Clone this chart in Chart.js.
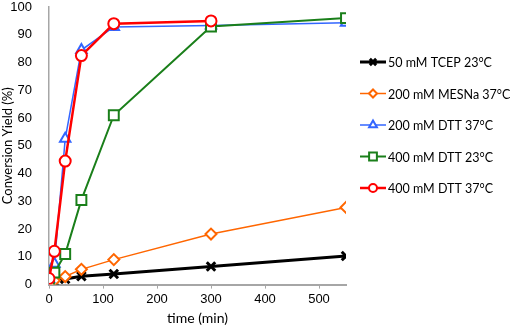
<!DOCTYPE html>
<html>
<head>
<meta charset="utf-8">
<script src="https://cdn.jsdelivr.net/npm/chart.js@4"></script>
<style>
  html, body { margin: 0; padding: 0; background: #fff; }
  #wrap { width: 510px; height: 329px; }
</style>
</head>
<body>
<div id="wrap"><canvas id="chartYield"></canvas></div>
<script>
// time points (min) and conversion yields (%)
const times = [0, 10, 30, 60, 120, 300, 550];
const tcep50 = [0.5, 1, 2, 3, 3.8, 6.5, 10.3];
const mesna200 = [1, 1.5, 2.9, 5.5, 9, 18.2, 27.8];
const dtt200_37 = [2, 7.5, 52.5, 84.5, 92.8, 93.3, 94.3];
const dtt400_23 = [0.8, 4.3, 11, 30.5, 61, 93, 96];
const dtt400_37 = [2.2, 12, 44.5, 82.5, 94, 95, null];
const seriesLabels = ["50 mM TCEP 23°C", "200 mM MESNa 37°C", "200 mM DTT 37°C", "400 mM DTT 23°C", "400 mM DTT 37°C"];
const yTicks = [0, 10, 20, 30, 40, 50, 60, 70, 80, 90, 100];
const xTicks = [0, 100, 200, 300, 400, 500];

const pts = (vals) => times.map((t, i) => ({ x: t, y: vals[i] }));

// legend drawn to the right: line with the marker in the middle
const sideLegend = {
  id: "sideLegend",
  afterDraw(chart) {
    const ctx = chart.ctx;
    const x0 = chart.chartArea.right + 14;
    let y = 62;
    chart.data.datasets.forEach((ds) => {
      ctx.save();
      ctx.strokeStyle = ds.borderColor;
      ctx.lineWidth = ds.borderWidth;
      ctx.beginPath();
      ctx.moveTo(x0, y);
      ctx.lineTo(x0 + 26, y);
      ctx.stroke();
      ctx.fillStyle = ds.pointBackgroundColor;
      ctx.lineWidth = ds.pointBorderWidth;
      Chart.helpers.drawPoint(ctx, {
        pointStyle: ds.pointStyle,
        radius: ds.pointRadius - 1.5,
        borderWidth: ds.pointBorderWidth,
        rotation: 0,
      }, x0 + 13, y);
      ctx.restore();
      ctx.save();
      ctx.fillStyle = "#000";
      ctx.font = "12.5px Lato";
      ctx.textBaseline = "middle";
      ctx.fillText(ds.label, x0 + 28, y + 1);
      ctx.restore();
      y += 31.5;
    });
  },
};

document.addEventListener("DOMContentLoaded", () => {
  new Chart(document.querySelector("#chartYield"), {
    type: "line",
    data: {
      datasets: [
        {
          label: seriesLabels[0],
          data: pts(tcep50),
          borderColor: "#000000",
          backgroundColor: "#000000",
          pointBackgroundColor: "#000000",
          borderWidth: 3,
          pointStyle: "crossRot",
          pointRadius: 6,
          pointBorderWidth: 3,
          order: 5,
        },
        {
          label: seriesLabels[1],
          data: pts(mesna200),
          borderColor: "#ff6600",
          backgroundColor: "#ffffff",
          pointBackgroundColor: "#ffffff",
          borderWidth: 1.5,
          pointStyle: "rectRot",
          pointRadius: 5.5,
          pointBorderWidth: 2,
          order: 4,
        },
        {
          label: seriesLabels[2],
          data: pts(dtt200_37),
          borderColor: "#3366ff",
          backgroundColor: "#ffffff",
          pointBackgroundColor: "#ffffff",
          borderWidth: 1.5,
          pointStyle: "triangle",
          pointRadius: 6,
          pointBorderWidth: 2,
          order: 3,
        },
        {
          label: seriesLabels[3],
          data: pts(dtt400_23),
          borderColor: "#1a7f1a",
          backgroundColor: "#ffffff",
          pointBackgroundColor: "#ffffff",
          borderWidth: 2,
          pointStyle: "rect",
          pointRadius: 7,
          pointBorderWidth: 2,
          order: 2,
        },
        {
          label: seriesLabels[4],
          data: pts(dtt400_37),
          borderColor: "#ff0000",
          backgroundColor: "#ffffff",
          pointBackgroundColor: "#ffffff",
          borderWidth: 2.5,
          pointStyle: "circle",
          pointRadius: 5.5,
          pointBorderWidth: 2,
          order: 1,
        },
      ],
    },
    options: {
      responsive: true,
      maintainAspectRatio: false,
      animation: false,
      spanGaps: false,
      layout: { autoPadding: false, padding: { top: 0, right: 164, left: 0, bottom: 2 } },
      scales: {
        x: {
          type: "linear",
          min: 0,
          max: 550,
          afterBuildTicks: (axis) => { axis.ticks = xTicks.map((v) => ({ value: v })); },
          grid: { display: true, drawOnChartArea: false, tickLength: 4, color: "#a6a6a6" },
          border: { color: "#a6a6a6", width: 2 },
          ticks: { color: "#000", font: { family: "Liberation Sans", size: 13 }, padding: 3 },
          title: { display: true, text: "time (min)", color: "#000", font: { family: "Lato", size: 14 }, padding: { top: 0, bottom: 0 } },
        },
        y: {
          min: 0,
          max: 100,
          afterBuildTicks: (axis) => { axis.ticks = yTicks.map((v) => ({ value: v })); },
          afterFit: (axis) => { axis.width = 49; axis.paddingTop = 7; axis.paddingBottom = 0; },
          grid: { display: false, drawTicks: false },
          border: { color: "#a6a6a6", width: 1.5 },
          ticks: { color: "#000", font: { family: "Liberation Sans", size: 13 }, padding: 17 },
          title: { display: true, text: "Conversion Yield (%)", color: "#000", font: { family: "Lato", size: 13 }, padding: { top: 0, bottom: 0 } },
        },
      },
      plugins: {
        legend: { display: false },
        tooltip: { enabled: false },
      },
    },
    plugins: [sideLegend],
  });
});
</script>
</body>
</html>
